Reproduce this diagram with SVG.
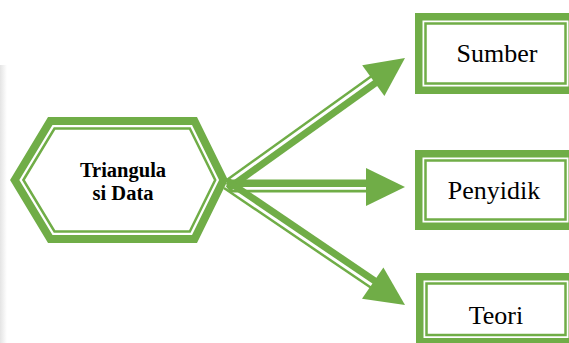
<svg xmlns="http://www.w3.org/2000/svg" width="569" height="343" viewBox="0 0 569 343">
<defs>
<linearGradient id="shade" x1="0" y1="0" x2="1" y2="0">
<stop offset="0" stop-color="#e4e4e4"/>
<stop offset="1" stop-color="#ffffff"/>
</linearGradient>
<style>
.thick{fill:none;stroke:#70AD47;stroke-width:8;stroke-linejoin:miter}
.thin{fill:none;stroke:#70AD47;stroke-width:2.5;stroke-linejoin:miter}
.bthick{fill:#fff;stroke:#70AD47;stroke-width:7.5}
.bthin{fill:none;stroke:#70AD47;stroke-width:2.5}
.sh{stroke:#70AD47;fill:none;stroke-linecap:butt}
.head{fill:#70AD47}
.lbl{font-size:26px;fill:#000;text-anchor:middle}
.hlbl{font-size:20.5px;font-weight:bold;fill:#000;text-anchor:middle}
</style>
</defs>
<rect x="0" y="0" width="569" height="343" fill="#fff"/>
<rect x="0" y="65" width="7" height="278" fill="url(#shade)"/>
<g id="hexagon">
<polygon class="thick" points="14.7,180 50.3,121 194.5,121 223.5,180 194.5,239 50.3,239"/>
<polygon class="thin" points="23.4,180 54.5,128.5 189.8,128.5 215.2,180 189.8,231.5 54.5,231.5"/>
<text class="hlbl" font-family="Liberation Serif" x="123" y="177.3">Triangula</text>
<text class="hlbl" font-family="Liberation Serif" x="123" y="200">si Data</text>
</g>
<g id="sumber">
<rect class="bthick" x="418.75" y="16.75" width="153.5" height="73.5"/>
<rect class="bthin" x="425.5" y="23.5" width="140" height="60"/>
<text class="lbl" font-family="Liberation Serif" x="497" y="62">Sumber</text>
</g>
<g id="penyidik">
<rect class="bthick" x="418.75" y="153.75" width="153.5" height="72.5"/>
<rect class="bthin" x="425.5" y="160.5" width="140" height="59"/>
<text class="lbl" font-family="Liberation Serif" x="494" y="199">Penyidik</text>
</g>
<g id="teori">
<rect class="bthick" x="419.75" y="276.75" width="152.5" height="65"/>
<rect class="bthin" x="426.5" y="283.5" width="139" height="51.5"/>
<text class="lbl" font-family="Liberation Serif" x="496" y="324">Teori</text>
</g>
<g id="connectors">
<line class="sh" stroke-width="7" x1="227.75" y1="188.8" x2="378.4" y2="80.8"/>
<line class="sh" stroke-width="2.5" x1="224" y1="182" x2="373.8" y2="74.5"/>
<polygon class="head" points="405,58 362.2,65.3 384.4,96.1"/>
<line class="sh" stroke-width="7.5" x1="227" y1="183.3" x2="372" y2="183.3"/>
<line class="sh" stroke-width="2.75" x1="229" y1="191" x2="372" y2="191"/>
<polygon class="head" points="405,187 366,168 366,206"/>
<line class="sh" stroke-width="7" x1="227.7" y1="181.2" x2="377.7" y2="282.9"/>
<line class="sh" stroke-width="2.5" x1="224" y1="188" x2="373.3" y2="289.3"/>
<polygon class="head" points="405,305 383.4,267.4 362,298.8"/>
</g>
</svg>
